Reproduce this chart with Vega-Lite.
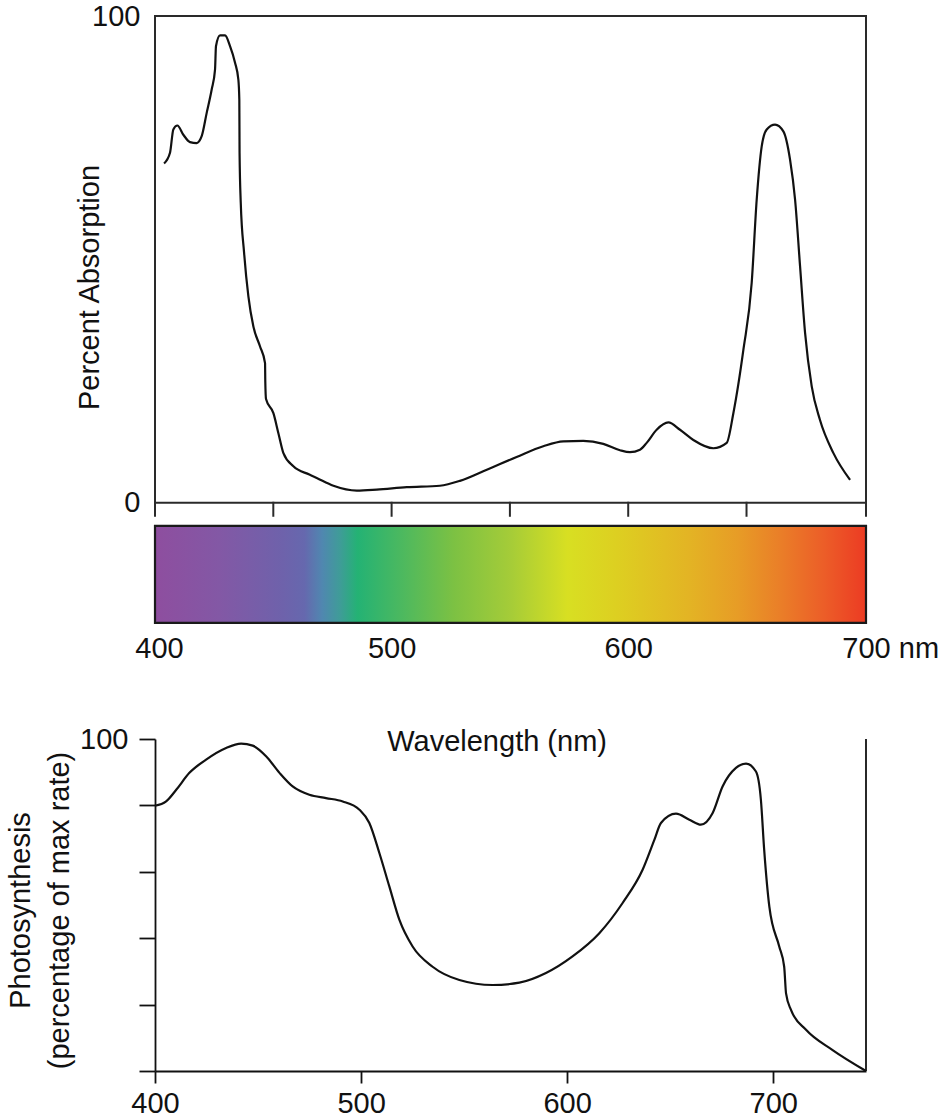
{
  "$schema": "https://vega.github.io/schema/vega-lite/v6.json",
  "background": "white",
  "padding": {"left": 6, "top": 2, "right": 5, "bottom": 5},
  "spacing": 62,
  "config": {
    "font": "Liberation Sans",
    "view": {"stroke": null},
    "axis": {"labelFont": "Liberation Sans", "titleFont": "Liberation Sans", "labelColor": "#111", "titleColor": "#111", "grid": false, "titleFontWeight": "normal", "labelFontSize": 29, "titleFontSize": 29}
  },
  "vconcat": [
    {
      "width": 711,
      "height": 607,
      "encoding": {
        "x": {
          "field": "nm", "type": "quantitative",
          "scale": {"domain": [400, 700.5], "nice": false, "zero": false},
          "axis": {
            "values": [400, 500, 600, 700], "domain": false, "ticks": false, "tickSize": 0,
            "labelPadding": 11, "title": null, "labelFlush": false, "labelOverlap": false, "labelBound": false,
            "labelExpr": "datum.value == 700 ? '700 nm' : datum.label",
            "labelAlign": {"condition": {"test": "datum.value == 700", "value": "left"}, "value": "center"},
            "labelOffset": {"condition": [{"test": "datum.value == 400", "value": 4}, {"test": "datum.value == 700", "value": -23}], "value": 0}
          }
        },
        "y": {
          "field": "v", "type": "quantitative",
          "scale": {"domain": [-24.7, 100], "nice": false, "zero": false},
          "axis": {
            "values": [0, 100], "domain": false, "ticks": false, "tickSize": 0, "labelPadding": 15,
            "labelFlush": false, "labelOverlap": false, "labelBaseline": "middle",
            "title": "Percent Absorption", "titleX": -51, "titleY": 271, "titleBaseline": "bottom", "titleAngle": 270
          }
        }
      },
      "layer": [
        {
          "data": {"values": [{"nm": 400, "nm2": 700.5, "v": -4.73, "v2": -24.67}]},
          "mark": {
            "type": "rect", "stroke": "#1a1a1a", "strokeWidth": 2.2,
            "fill": {"gradient": "linear", "x1": 0, "y1": 0, "x2": 1, "y2": 0, "stops": [
              {"offset": 0, "color": "#8E4E9F"},
              {"offset": 0.09, "color": "#8358A5"},
              {"offset": 0.18, "color": "#6E62AB"},
              {"offset": 0.21, "color": "#6668AE"},
              {"offset": 0.235, "color": "#5087B0"},
              {"offset": 0.26, "color": "#3F9C98"},
              {"offset": 0.285, "color": "#24B274"},
              {"offset": 0.35, "color": "#4EB95E"},
              {"offset": 0.42, "color": "#7CC143"},
              {"offset": 0.5, "color": "#A5CC38"},
              {"offset": 0.58, "color": "#D8DF22"},
              {"offset": 0.65, "color": "#DDCF21"},
              {"offset": 0.75, "color": "#E3B424"},
              {"offset": 0.82, "color": "#E79C26"},
              {"offset": 0.88, "color": "#EA7E28"},
              {"offset": 0.94, "color": "#EC5E28"},
              {"offset": 1, "color": "#EC3B23"}
            ]}
          },
          "encoding": {"x2": {"field": "nm2"}, "y2": {"field": "v2"}}
        },
        {
          "data": {"values": [
            {"nm": 400, "nm2": 400, "v": -2.67, "v2": 100},
            {"nm": 700.5, "nm2": 700.5, "v": -2.67, "v2": 100},
            {"nm": 400, "nm2": 700.5, "v": 100, "v2": 100},
            {"nm": 400, "nm2": 700.5, "v": 0, "v2": 0},
            {"nm": 450, "nm2": 450, "v": 0, "v2": -2.67},
            {"nm": 500, "nm2": 500, "v": 0, "v2": -2.67},
            {"nm": 550, "nm2": 550, "v": 0, "v2": -2.67},
            {"nm": 600, "nm2": 600, "v": 0, "v2": -2.67},
            {"nm": 650, "nm2": 650, "v": 0, "v2": -2.67}
          ]},
          "mark": {"type": "rule", "color": "#2a2a2a", "strokeWidth": 2, "strokeCap": "square"},
          "encoding": {"x2": {"field": "nm2"}, "y2": {"field": "v2"}}
        },
        {
          "data": {"values": [
            {"nm": 403.83, "v": 69.7}, {"nm": 406.34, "v": 71.9}, {"nm": 407.75, "v": 76.7}, {"nm": 409.46, "v": 77.5},
            {"nm": 411.98, "v": 75.6}, {"nm": 414.8, "v": 74.1}, {"nm": 417.62, "v": 73.9}, {"nm": 419.73, "v": 75.3},
            {"nm": 421.85, "v": 80.1}, {"nm": 423.96, "v": 84.9}, {"nm": 425.37, "v": 89.0}, {"nm": 425.77, "v": 93.8},
            {"nm": 427.49, "v": 96.0}, {"nm": 429.6, "v": 96.0}, {"nm": 431.71, "v": 93.8}, {"nm": 433.83, "v": 90.4},
            {"nm": 435.24, "v": 86.9}, {"nm": 435.64, "v": 82.8}, {"nm": 435.74, "v": 71.9}, {"nm": 436.24, "v": 61.7},
            {"nm": 437.65, "v": 51.4}, {"nm": 439.47, "v": 42.4}, {"nm": 441.58, "v": 36.2}, {"nm": 444.4, "v": 32.1},
            {"nm": 446.51, "v": 28.7}, {"nm": 446.61, "v": 25.0}, {"nm": 446.92, "v": 21.3}, {"nm": 450.04, "v": 18.4},
            {"nm": 452.15, "v": 14.3}, {"nm": 454.27, "v": 10.2}, {"nm": 458.49, "v": 7.5}, {"nm": 465.24, "v": 5.8},
            {"nm": 468.36, "v": 5.1}, {"nm": 475.41, "v": 3.5}, {"nm": 485.27, "v": 2.5}, {"nm": 493.73, "v": 2.7},
            {"nm": 506.42, "v": 3.2}, {"nm": 520.41, "v": 3.5}, {"nm": 528.87, "v": 4.5}, {"nm": 540.24, "v": 6.8},
            {"nm": 552.83, "v": 9.4}, {"nm": 564.1, "v": 11.6}, {"nm": 572.56, "v": 12.6}, {"nm": 581.02, "v": 12.7},
            {"nm": 589.47, "v": 12.1}, {"nm": 596.52, "v": 10.8}, {"nm": 600.75, "v": 10.4}, {"nm": 604.98, "v": 10.9},
            {"nm": 607.8, "v": 12.3}, {"nm": 612.02, "v": 15.0}, {"nm": 616.96, "v": 16.5}, {"nm": 621.89, "v": 15.0},
            {"nm": 627.53, "v": 12.9}, {"nm": 635.99, "v": 11.2}, {"nm": 641.62, "v": 12.3}, {"nm": 644.44, "v": 18.4},
            {"nm": 648.67, "v": 31.4}, {"nm": 652.19, "v": 45.2}, {"nm": 654.31, "v": 62.3}, {"nm": 656.42, "v": 73.2},
            {"nm": 658.54, "v": 76.7}, {"nm": 662.06, "v": 77.7}, {"nm": 665.58, "v": 76.3}, {"nm": 668.4, "v": 70.5},
            {"nm": 670.52, "v": 62.3}, {"nm": 672.63, "v": 48.6}, {"nm": 674.75, "v": 34.9}, {"nm": 677.56, "v": 23.9},
            {"nm": 680.99, "v": 17.1}, {"nm": 686.73, "v": 10.2}, {"nm": 693.77, "v": 4.7}
          ]},
          "mark": {"type": "line", "interpolate": "monotone", "color": "#111", "strokeWidth": 2.2}
        }
      ]
    },
    {
      "width": 711,
      "height": 332,
      "encoding": {
        "x": {
          "field": "nm", "type": "quantitative",
          "scale": {"domain": [400, 745], "nice": false, "zero": false},
          "axis": {
            "values": [400, 500, 600, 700], "tickSize": 12, "labelPadding": 6, "title": null,
            "domainColor": "#111", "tickColor": "#111", "domainWidth": 1.8, "tickWidth": 1.8,
            "labelFlush": false, "labelOverlap": false
          }
        },
        "y": {
          "field": "v", "type": "quantitative",
          "scale": {"domain": [0, 100], "nice": false, "zero": false},
          "axis": {
            "values": [0, 20, 40, 60, 80, 100], "tickSize": 16, "labelPadding": 11,
            "domainColor": "#111", "tickColor": "#111", "domainWidth": 1.8, "tickWidth": 1.8,
            "labelExpr": "datum.value == 100 ? '100' : ''", "labelFlush": false, "labelOverlap": false, "labelBaseline": "middle",
            "title": ["Photosynthesis", "(percentage of max rate)"], "titleLineHeight": 39,
            "titleX": -120, "titleY": 171, "titleBaseline": "bottom", "titleAngle": 270
          }
        }
      },
      "layer": [
        {
          "data": {"values": [{"nm": 745, "v": 0, "v2": 100}]},
          "mark": {"type": "rule", "color": "#111", "strokeWidth": 1.8},
          "encoding": {"y2": {"field": "v2"}}
        },
        {
          "data": {"values": [
            {"nm": 400, "v": 79.9}, {"nm": 405.4, "v": 81.2}, {"nm": 410.3, "v": 84.7}, {"nm": 416.7, "v": 89.8},
            {"nm": 424.8, "v": 93.8}, {"nm": 434.5, "v": 97.3}, {"nm": 441.8, "v": 98.6}, {"nm": 447.4, "v": 98.0},
            {"nm": 453.9, "v": 94.8}, {"nm": 460.4, "v": 89.8}, {"nm": 466.8, "v": 85.7}, {"nm": 474.9, "v": 83.2},
            {"nm": 483.0, "v": 82.2}, {"nm": 491.1, "v": 81.2}, {"nm": 499.2, "v": 78.7}, {"nm": 504.0, "v": 74.7},
            {"nm": 508.9, "v": 65.6}, {"nm": 513.7, "v": 55.6}, {"nm": 518.6, "v": 45.5}, {"nm": 525.0, "v": 37.5},
            {"nm": 534.7, "v": 31.4}, {"nm": 547.7, "v": 27.4}, {"nm": 563.8, "v": 25.9}, {"nm": 576.8, "v": 26.6},
            {"nm": 589.7, "v": 29.5}, {"nm": 602.6, "v": 34.5}, {"nm": 615.6, "v": 41.5}, {"nm": 626.9, "v": 50.6},
            {"nm": 636.6, "v": 60.6}, {"nm": 642.3, "v": 69.6}, {"nm": 645.5, "v": 74.7}, {"nm": 652.8, "v": 77.5},
            {"nm": 659.3, "v": 75.7}, {"nm": 664.9, "v": 74.2}, {"nm": 670.6, "v": 77.7}, {"nm": 675.4, "v": 85.7},
            {"nm": 681.9, "v": 91.3}, {"nm": 686.8, "v": 92.6}, {"nm": 691.6, "v": 90.2}, {"nm": 694.0, "v": 81.7},
            {"nm": 695.6, "v": 66.6}, {"nm": 698.1, "v": 49.5}, {"nm": 702.9, "v": 37.5}, {"nm": 705.3, "v": 31.4},
            {"nm": 706.2, "v": 23.4}, {"nm": 708.6, "v": 18.4}, {"nm": 715.9, "v": 12.4}, {"nm": 728.8, "v": 6.3},
            {"nm": 745, "v": 0}
          ]},
          "mark": {"type": "line", "interpolate": "monotone", "color": "#111", "strokeWidth": 2.2}
        },
        {
          "data": {"values": [{"nm": 566, "v": 99, "label": "Wavelength (nm)"}]},
          "mark": {"type": "text", "fontSize": 29, "font": "Liberation Sans", "baseline": "middle", "align": "center", "color": "#111"},
          "encoding": {"text": {"field": "label", "type": "nominal"}}
        }
      ]
    }
  ]
}
